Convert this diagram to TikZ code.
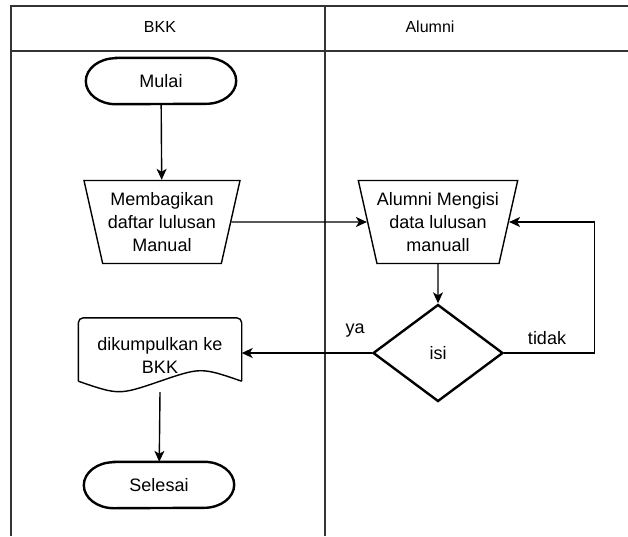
\documentclass[tikz,border=0pt]{standalone}
\usepackage{fontspec}
\setmainfont{Liberation Sans}
\usetikzlibrary{arrows.meta,shapes.geometric,calc}

\tikzset{
  lane/.style={draw=black!80, line width=1.4pt},
  txt/.style={font=\fontsize{18}{23}\selectfont, align=center, text=black},
  headtxt/.style={font=\fontsize{16}{19}\selectfont, text=black},
  terminal/.style={txt, minimum width=150pt, minimum height=46pt, inner sep=0pt},
  termline/.style={draw=black, line width=2.4pt},
  manualop/.style={txt, draw=black, line width=1.4pt, trapezium,
    shape border rotate=180, trapezium stretches body,
    trapezium left angle=72.5, trapezium right angle=72.5,
    minimum width=156pt, minimum height=83pt, inner sep=0pt},
  decision/.style={txt, draw=black, line width=2.4pt, diamond, aspect=1.34,
    minimum width=130pt, minimum height=97pt, inner sep=0pt},
  docbox/.style={txt, minimum width=163pt, minimum height=74pt, inner sep=0pt},
  docline/.style={draw=black, line width=1.4pt},
  flow/.style={draw=black, line width=1.4pt,
    -{Stealth[length=11pt, width=10pt, inset=3pt]}},
  lbl/.style={font=\fontsize{18}{22}\selectfont, text=black, inner sep=0pt}
}

% outline of a start/end terminal: flat top and bottom, elliptic ends
\newcommand{\terminaloutline}[1]{%
  \draw[termline] ($(#1.north west)+(30,0)$) -- ($(#1.north east)+(-30,0)$)
    arc[start angle=90, end angle=-90, x radius=30pt, y radius=23pt]
    -- ($(#1.south west)+(30,0)$)
    arc[start angle=270, end angle=90, x radius=30pt, y radius=23pt]
    -- cycle;}

\begin{document}
\begin{tikzpicture}[x=1pt, y=-1pt]
  \useasboundingbox (0,0) rectangle (628,536);

  % swimlane frame
  \draw[lane] (11,536) -- (11,6) -- (628,6);
  \draw[lane] (11,51) -- (628,51);
  \draw[lane] (325,6) -- (325,536);
  \node[headtxt] (hbkk) at (160,27) {BKK};
  \node[headtxt] (halumni) at (430,27) {Alumni};

  % BKK lane
  \node[terminal] (mulai) at (161,81) {Mulai};
  \terminaloutline{mulai}
  \node[manualop] (bagi) at (162,222) {Membagikan\\daftar lulusan\\Manual};
  \node[docbox] (kumpul) at (160,355) {dikumpulkan ke\\BKK};
  \node[terminal] (selesai) at (159,485) {Selesai};
  \terminaloutline{selesai}

  % document outline: rounded top, wavy bottom
  \draw[docline, rounded corners=5pt]
    ($(kumpul.south west)+(0,-11)$) -- (kumpul.north west) -- (kumpul.north east)
    [sharp corners] -- ($(kumpul.south east)+(0,-11)$);
  \draw[docline]
    ($(kumpul.south east)+(0,-11)$)
      .. controls ($(kumpul.south)+(41,-25)$) .. ($(kumpul.south)+(0,-11)$)
      .. controls ($(kumpul.south)+(-41,3)$) .. ($(kumpul.south west)+(0,-11)$);

  % Alumni lane
  \node[manualop] (isi) at (438,222) {Alumni Mengisi\\data lulusan\\manuall};
  \node[decision] (cek) at (438,353) {isi};

  % connectors
  \draw[flow] (mulai) -- (bagi);
  \draw[flow] (bagi) -- (isi);
  \draw[flow] (isi) -- (cek);
  \draw[flow] (cek.west) -- (cek.west -| kumpul.east);
  \draw[flow] (cek.east) -- ++(90,0) coordinate (balik) |- (isi);
  \draw[flow] (kumpul.south) -- (selesai);

  \node[lbl] (ya) at (355,331) {ya};
  \node[lbl] (tidak) at (547,338) {tidak};
\end{tikzpicture}
\end{document}
